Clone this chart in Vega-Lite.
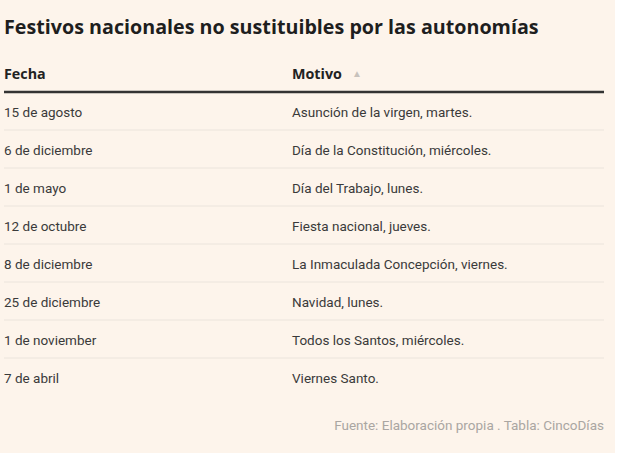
{
  "$schema": "https://vega.github.io/schema/vega-lite/v6.json",
  "width": 600,
  "height": 418,
  "autosize": {"type": "none"},
  "padding": {"left": 4, "right": 11, "top": 16, "bottom": 19},
  "background": "#fdf4eb",
  "config": {"view": {"stroke": null}, "text": {"font": "Roboto"}},
  "datasets": {
    "filas": [
      {"fila": "1", "Fecha": "15 de agosto", "Motivo": "Asunción de la virgen, martes."},
      {"fila": "2", "Fecha": "6 de diciembre", "Motivo": "Día de la Constitución, miércoles."},
      {"fila": "3", "Fecha": "1 de mayo", "Motivo": "Día del Trabajo, lunes."},
      {"fila": "4", "Fecha": "12 de octubre", "Motivo": "Fiesta nacional, jueves."},
      {"fila": "5", "Fecha": "8 de diciembre", "Motivo": "La Inmaculada Concepción, viernes."},
      {"fila": "6", "Fecha": "25 de diciembre", "Motivo": "Navidad, lunes."},
      {"fila": "7", "Fecha": "1 de noviember", "Motivo": "Todos los Santos, miércoles."},
      {"fila": "8", "Fecha": "7 de abril", "Motivo": "Viernes Santo."}
    ],
    "cabecera": [
      {"fila": "h", "columna": "Fecha"},
      {"fila": "h", "columna": "Motivo"}
    ],
    "titulo": [{"fila": "t", "texto": "Festivos nacionales no sustituibles por las autonomías"}],
    "pie": [{"fila": "f", "texto": "Fuente: Elaboración propia . Tabla: CincoDías"}]
  },
  "resolve": {"scale": {"x": "shared", "y": "shared"}},
  "layer": [
    {
      "data": {"name": "filas"},
      "transform": [{"filter": "datum.fila != '8'"}],
      "mark": {"type": "rule", "color": "#ebe4dc", "strokeWidth": 1},
      "encoding": {
        "y": {"field": "fila", "type": "ordinal", "bandPosition": 1}
      }
    },
    {
      "data": {"name": "cabecera"},
      "transform": [{"filter": "datum.columna == 'Fecha'"}],
      "mark": {"type": "rule", "color": "#333333", "strokeWidth": 2.5},
      "encoding": {
        "y": {"field": "fila", "type": "ordinal", "bandPosition": 1}
      }
    },
    {
      "data": {"name": "filas"},
      "transform": [{"fold": ["Fecha", "Motivo"], "as": ["columna", "texto"]}],
      "mark": {"type": "text", "align": "left", "baseline": "middle", "fontSize": 13.5, "color": "#3a3a3a", "dy": 1.5},
      "encoding": {
        "x": {"field": "columna", "type": "nominal", "bandPosition": 0},
        "y": {"field": "fila", "type": "ordinal"},
        "text": {"field": "texto"}
      }
    },
    {
      "data": {"name": "cabecera"},
      "mark": {"type": "text", "align": "left", "baseline": "middle", "fontSize": 14.3, "fontWeight": "bold", "font": "Open Sans", "color": "#222222", "dy": 2},
      "encoding": {
        "x": {"field": "columna", "type": "nominal", "bandPosition": 0},
        "y": {"field": "fila", "type": "ordinal"},
        "text": {"field": "columna"}
      }
    },
    {
      "data": {"name": "cabecera"},
      "transform": [{"filter": "datum.columna == 'Motivo'"}],
      "mark": {"type": "text", "align": "left", "baseline": "middle", "fontSize": 10, "color": "#c8c2bc", "dx": 60, "dy": 1},
      "encoding": {
        "x": {"field": "columna", "type": "nominal", "bandPosition": 0},
        "y": {"field": "fila", "type": "ordinal"},
        "text": {"value": "▲"}
      }
    },
    {
      "data": {"name": "titulo"},
      "mark": {"type": "text", "align": "left", "baseline": "middle", "fontSize": 19.7, "fontWeight": "bold", "font": "Open Sans", "color": "#1e1e1e", "dy": -7},
      "encoding": {
        "x": {"value": 0},
        "y": {"field": "fila", "type": "ordinal"},
        "text": {"field": "texto"}
      }
    },
    {
      "data": {"name": "pie"},
      "mark": {"type": "text", "align": "right", "baseline": "middle", "fontSize": 13.5, "color": "#aaa6a2", "dy": 10.5},
      "encoding": {
        "x": {"value": "width"},
        "y": {"field": "fila", "type": "ordinal"},
        "text": {"field": "texto"}
      }
    }
  ],
  "encoding": {
    "x": {
      "scale": {"type": "band", "domain": ["Fecha", "Motivo"], "paddingInner": 0, "paddingOuter": 0.04167, "align": 0},
      "axis": null
    },
    "y": {
      "scale": {"type": "band", "domain": ["t", "h", "1", "2", "3", "4", "5", "6", "7", "8", "f"], "paddingInner": 0, "paddingOuter": 0},
      "axis": null
    }
  }
}
